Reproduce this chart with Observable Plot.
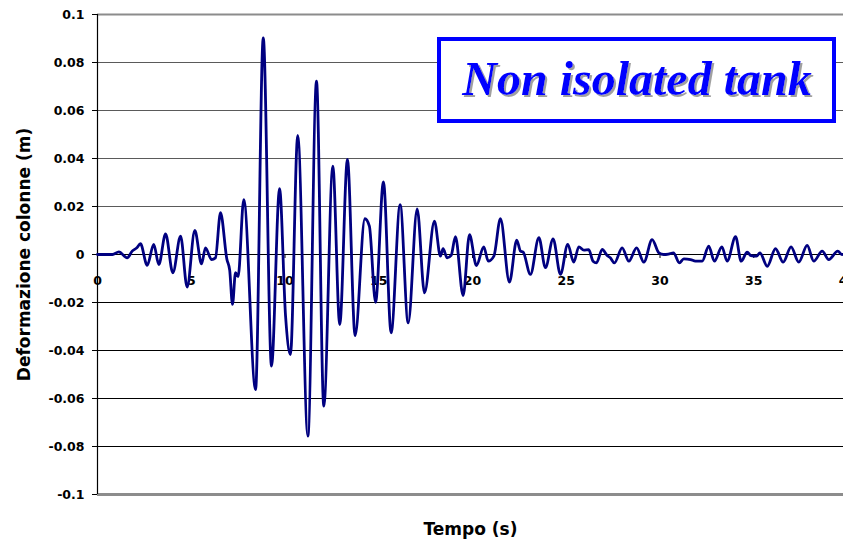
<!DOCTYPE html>
<html>
<head>
<meta charset="utf-8">
<script src="https://cdn.jsdelivr.net/npm/d3@7"></script>
<script src="https://cdn.jsdelivr.net/npm/@observablehq/plot@0.6"></script>
<style>
  html, body { margin: 0; padding: 0; background: #fff; overflow: hidden; }
  #chart svg { display: block; overflow: hidden; }
</style>
</head>
<body>
<div id="chart"></div>
<script>
// ---- data ----
const time = [
  0, 0.8, 1.14, 1.58, 1.85, 2.1, 2.29, 2.65, 3.0, 3.27,
  3.63, 4.02, 4.43, 4.78, 5.19, 5.55, 5.76, 6.08, 6.29, 6.56,
  6.9, 7.05, 7.2, 7.36, 7.5, 7.8, 8.43, 8.84, 9.28, 9.71,
  10.03, 10.29, 10.68, 11.22, 11.68, 12.07, 12.55, 12.92, 13.33, 13.74,
  14.26, 14.5, 14.83, 15.25, 15.66, 16.14, 16.57, 17.05, 17.44, 17.97,
  18.29, 18.43, 18.65, 18.86, 19.09, 19.5, 19.84, 20.21, 20.6, 20.84,
  21.14, 21.49, 21.97, 22.36, 22.56, 22.7, 23.09, 23.54, 23.89, 24.3,
  24.69, 25.08, 25.4, 25.67, 25.94, 26.2, 26.43, 26.61, 26.92, 27.18,
  27.35, 27.57, 27.98, 28.34, 28.75, 29.14, 29.58, 29.94, 30.2, 30.45,
  30.72, 31.03, 31.27, 31.63, 31.89, 32.25, 32.6, 32.9, 33.3, 33.58,
  34.03, 34.33, 34.65, 34.85, 35.15, 35.33, 35.72, 36.16, 36.57, 36.99,
  37.4, 37.85, 38.2, 38.65, 39.0, 39.48, 39.71, 40
];
const deformation = [
  0, 0, 0.0011, -0.0014, 0.0014, 0.0028, 0.0045, -0.0045, 0.0042, -0.0042,
  0.0086, -0.0076, 0.0076, -0.0136, 0.0100, -0.0039, 0.0028, -0.0021, -0.0014, 0.0174,
  -0.0020, -0.0065, -0.0208, -0.0076, -0.0092, 0.0229, -0.0563, 0.0903, -0.0465, 0.0274,
  -0.0257, -0.0417, 0.0496, -0.0757, 0.0722, -0.0632, 0.0368, -0.0292, 0.0396, -0.0338,
  0.0149, 0.0118, -0.0199, 0.0303, -0.0326, 0.0208, -0.0285, 0.0190, -0.0160, 0.0139,
  -0.0007, 0.0024, -0.0014, -0.0004, 0.0074, -0.0171, 0.0083, -0.0046, 0.0032, -0.0028,
  -0.0007, 0.0149, -0.0115, 0.0060, 0.0014, 0.0010, -0.0083, 0.0070, -0.0055, 0.0065,
  -0.0083, 0.0042, -0.0032, 0.0032, 0.0018, 0.0020, -0.0028, -0.0035, 0.0021, -0.0004,
  -0.0014, -0.0035, 0.0028, -0.0028, 0.0028, -0.0032, 0.0062, 0.0007, 0, 0.0002,
  0.0007, -0.0035, -0.0018, -0.0021, -0.0028, -0.0028, 0.0035, -0.0028, 0.0032, -0.0028,
  0.0074, -0.0028, 0.0010, -0.0005, -0.0007, 0.0007, -0.0049, 0.0024, -0.0032, 0.0032,
  -0.0032, 0.0038, -0.0028, 0.0014, -0.0021, 0.0014, 0, 0.0010
];
const xTicks = [0, 5, 10, 15, 20, 25, 30, 35, 40];
const xTickLabels = ["0", "5", "10", "15", "20", "25", "30", "35", "40"];
const yTicks = [0.1, 0.08, 0.06, 0.04, 0.02, 0, -0.02, -0.04, -0.06, -0.08, -0.1];
const yTickLabels = ["0.1", "0.08", "0.06", "0.04", "0.02", "0", "-0.02", "-0.04", "-0.06", "-0.08", "-0.1"];
const gridUpper = [0.08, 0.06, 0.04, 0.02];
const gridLower = [0, -0.02, -0.04, -0.06, -0.08];
const xTitle = "Tempo (s)";
const yTitle = "Deformazione colonne (m)";
const boxTitle = "Non isolated tank";

const series = time.map((t, i) => ({t, v: deformation[i]}));
const font = "DejaVu Sans, Verdana, sans-serif";

const chart = Plot.plot({
  width: 843,
  height: 544,
  marginLeft: 97,
  marginRight: 0,
  marginTop: 14,
  marginBottom: 50,
  x: {domain: [0, 40], range: [97, 847], axis: null},
  y: {domain: [-0.1, 0.1], range: [494, 14], axis: null},
  style: {background: "white", fontFamily: font, overflow: "hidden"},
  marks: [
    Plot.ruleY(gridUpper, {stroke: "#5a5a5a", strokeWidth: 1.2}),
    Plot.ruleY(gridLower, {stroke: "#000", strokeWidth: 1.2}),
    Plot.ruleY([0.1], {stroke: "#8c8c8c", strokeWidth: 2}),
    Plot.ruleY([-0.1], {stroke: "#8c8c8c", strokeWidth: 3}),
    Plot.ruleX([0], {stroke: "#000", strokeWidth: 1.2}),
    // y ticks (pointing left)
    Plot.ruleY(yTicks, {x1: 0, x2: 0, insetLeft: -5, stroke: "#000"}),
    // x ticks on the zero line (pointing down)
    Plot.ruleX(xTicks, {y1: 0, y2: 0, insetBottom: -4, stroke: "#000"}),
    Plot.text(yTicks, {x: 0, y: d => d, text: (d, i) => yTickLabels[i], textAnchor: "end", dx: -13,
      fontWeight: "bold", fontSize: 12.5, fill: "#000"}),
    Plot.text(xTicks, {x: d => d, y: 0, text: (d, i) => xTickLabels[i], dy: 26,
      fontWeight: "bold", fontSize: 12.5, fill: "#000"}),
    Plot.line(series, {x: "t", y: "v", stroke: "#000080", strokeWidth: 2.8, curve: "monotone-x"}),
    Plot.text([xTitle], {frameAnchor: "bottom", textAnchor: "middle", lineAnchor: "middle", dy: 35,
      fontWeight: "bold", fontSize: 17, fill: "#000"}),
    Plot.text([yTitle], {frameAnchor: "left", textAnchor: "middle", lineAnchor: "middle", rotate: -90, dx: -73,
      fontWeight: "bold", fontSize: 17, fill: "#000"})
  ]
});

document.getElementById("chart").appendChild(chart);

// title box drawn on top of the plot, with a drop shadow on its text
const svg = d3.select(chart);
const defs = svg.append("defs");
const filter = defs.append("filter").attr("id", "titleShadow")
  .attr("x", "-5%").attr("y", "-20%").attr("width", "115%").attr("height", "150%");
filter.append("feDropShadow").attr("dx", 2).attr("dy", 2).attr("stdDeviation", 0.4)
  .attr("flood-color", "#a0a0a0").attr("flood-opacity", 1);
const g = svg.append("g");
g.append("rect").attr("x", 439).attr("y", 39).attr("width", 395).attr("height", 82)
  .attr("fill", "white").attr("stroke", "#0000ff").attr("stroke-width", 4);
g.append("text").attr("x", 637).attr("y", 95).attr("text-anchor", "middle")
  .attr("font-family", "Liberation Serif, Times New Roman, serif")
  .attr("font-style", "italic").attr("font-weight", "bold").attr("font-size", 48)
  .attr("fill", "#0000ff").attr("filter", "url(#titleShadow)").text(boxTitle);
</script>
</body>
</html>
